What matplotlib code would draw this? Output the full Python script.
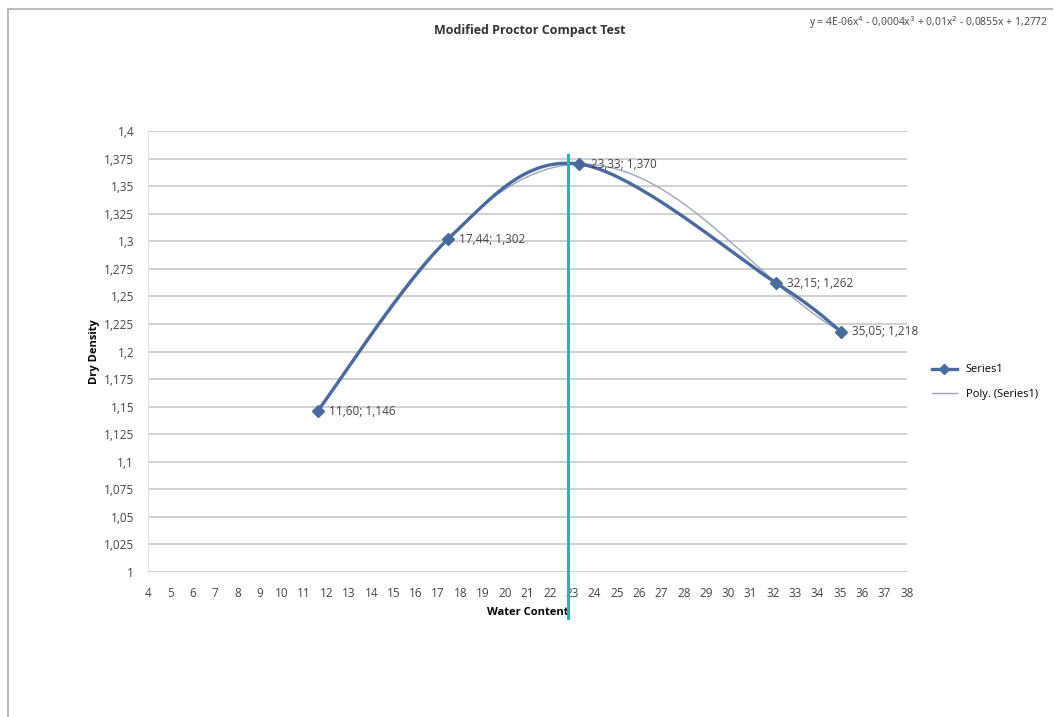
import matplotlib.pyplot as plt
import numpy as np

plt.rcParams['font.family'] = ['Open Sans', 'DejaVu Sans']

# data
water = [11.60, 17.44, 23.33, 32.15, 35.05]
density = [1.146, 1.302, 1.370, 1.262, 1.218]
labels = ['11,60; 1,146', '17,44; 1,302', '23,33; 1,370', '32,15; 1,262', '35,05; 1,218']
omc_x = 22.8
omc_y = [0.958, 1.378]
x_ticks = list(range(4, 39))
y_ticks = [1 + 0.025 * i for i in range(17)]
equation = 'y = 4E-06x$^4$ - 0,0004x$^3$ + 0,01x$^2$ - 0,0855x + 1,2772'

SERIES = '#4a6a9c'
POLY = '#9aa6bb'
CYAN = '#2bb3b3'


def smooth(xs, ys, n=40):
    # Excel-style smoothed line (Catmull-Rom through the points)
    p = np.column_stack([xs, ys])
    p = np.vstack([p[0], p, p[-1]])
    out = []
    for i in range(1, len(p) - 2):
        p0, p1, p2, p3 = p[i - 1], p[i], p[i + 1], p[i + 2]
        c1 = p1 + (p2 - p0) / 6
        c2 = p2 - (p3 - p1) / 6
        t = np.linspace(0, 1, n)[:, None]
        out.append((1 - t) ** 3 * p1 + 3 * (1 - t) ** 2 * t * c1 + 3 * (1 - t) * t ** 2 * c2 + t ** 3 * p2)
    out = np.vstack(out)
    return out[:, 0], out[:, 1]


fig = plt.figure(figsize=(10.54, 7.17), dpi=100)
ax = fig.add_axes([0.1404, 0.2022, 0.7201, 0.6151])

ax.set_xlim(4, 38)
ax.set_ylim(1, 1.4)
ax.set_xticks(x_ticks)
ax.set_xticklabels([str(v) for v in x_ticks])
ax.set_yticks(y_ticks)
ax.set_yticklabels([f'{v:g}'.replace('.', ',') for v in y_ticks])
ax.tick_params(length=0, labelsize=8.5, colors='#444444')
ax.tick_params(axis='x', pad=11)
ax.tick_params(axis='y', pad=10)
ax.grid(axis='y', color='#c8c8c8', linewidth=1.2)
for s in ['top', 'right', 'bottom']:
    ax.spines[s].set_visible(False)
ax.spines['left'].set_color('#e2e2e2')
ax.set_axisbelow(True)

# polynomial trendline (order 4)
coef = np.polyfit(water, density, 4)
xp = np.linspace(min(water), max(water), 300)
ax.plot(xp, np.polyval(coef, xp), color=POLY, linewidth=1.0, label='Poly. (Series1)', zorder=3)

sx, sy = smooth(water, density)
ax.plot(sx, sy, color=SERIES, linewidth=2.4, zorder=4)
ax.plot(water, density, linestyle='none', marker='D', markersize=6, color=SERIES, zorder=5)
ax.plot([], [], color=SERIES, linewidth=2.4, marker='D', markersize=5, label='Series1')

for x, y, t in zip(water, density, labels):
    ax.annotate(t, (x, y), xytext=(8, 0), textcoords='offset points', va='center',
                fontsize=8.5, color='#444444', zorder=6)

ax.plot([omc_x, omc_x], omc_y, color=CYAN, linewidth=2.2, clip_on=False, zorder=7)

ax.set_xlabel('Water Content', fontsize=8, fontweight='bold', labelpad=5)
ax.set_ylabel('Dry Density', fontsize=8, fontweight='bold', labelpad=3)

h, l = ax.get_legend_handles_labels()
fig.legend(h[::-1], l[::-1], loc='center left', bbox_to_anchor=(0.875, 0.467),
           frameon=False, fontsize=8, handlelength=2.2, labelspacing=1.2)

fig.text(0.503, 0.958, 'Modified Proctor Compact Test', ha='center', va='center',
         fontsize=9, fontweight='bold', color='#333333')
fig.text(0.995, 0.969, equation, ha='right', va='center', fontsize=7.5, color='#444444')

# chart border
fig.add_artist(plt.Line2D([0.008, 0.998], [0.988, 0.988], color='#bbbbbb', linewidth=1.5))
fig.add_artist(plt.Line2D([0.008, 0.008], [0.0, 0.988], color='#bbbbbb', linewidth=1.5))

fig.savefig('out.png', dpi=100)
